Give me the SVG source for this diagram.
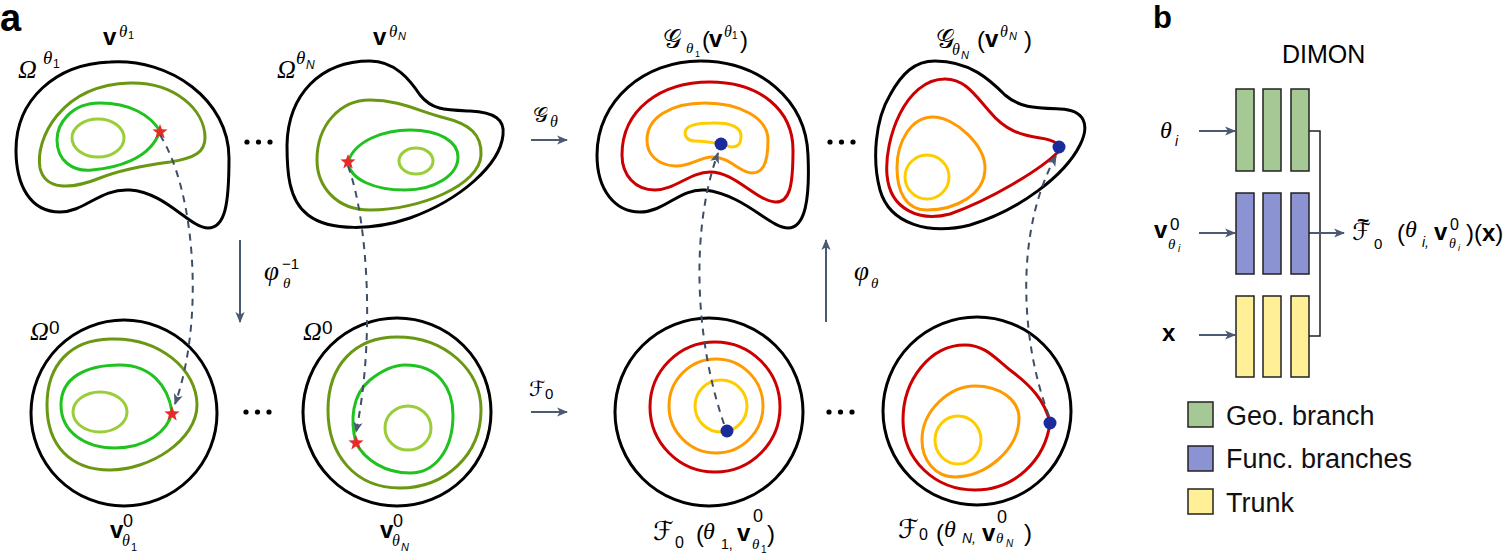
<svg xmlns="http://www.w3.org/2000/svg" xmlns:xlink="http://www.w3.org/1999/xlink" width="1511" height="553" viewBox="0 0 1511 553">
<defs>
<style>
.blk{fill:none;stroke:#000;stroke-width:3}
.c{fill:none;stroke-width:3}
.olive{stroke:#6a9812}
.green{stroke:#1fc21f}
.lgreen{stroke:#9acd3a}
.red{stroke:#cc0000}
.orange{stroke:#ff9a00}
.yellow{stroke:#ffcc00}
.dash{fill:none;stroke:#3e4e66;stroke-width:2;stroke-dasharray:7 6}
.arr{fill:none;stroke:#4a5a72;stroke-width:2}
.dot{fill:#1a2b9b}
.star{fill:#e62a2a}
.bar{stroke:#222;stroke-width:1.5}
.gr{fill:#a5c894}
.bl{fill:#8b93d3}
.yl{fill:#fff097}
.dots{fill:#000}
text{fill:#000}
.lbl{font-family:"Liberation Sans",Arial,sans-serif;font-weight:bold}
.bv{font-family:"Liberation Sans",Arial,sans-serif;font-weight:bold;font-size:24px}
.gi{font-family:"Liberation Serif","Times New Roman",serif;font-style:italic}
.sn{font-family:"Liberation Sans",Arial,sans-serif}
.si{font-family:"Liberation Sans",Arial,sans-serif;font-style:italic}
.sc{font-family:"DejaVu Serif","DejaVu Sans",serif;font-style:normal}
.leg{font-family:"Liberation Sans",Arial,sans-serif;font-size:27px;fill:#111}
</style>
<marker id="ah" viewBox="0 0 10 10" refX="9" refY="5" markerWidth="11" markerHeight="11" markerUnits="userSpaceOnUse" orient="auto">
<path d="M0,0.8 L10,5 L0,9.2 L2.5,5 Z" fill="#4a5a72"/>
</marker>
<polygon id="star" points="0,-8 1.94,-2.67 7.61,-2.47 3.14,1.02 4.7,6.47 0,3.3 -4.7,6.47 -3.14,1.02 -7.61,-2.47 -1.94,-2.67"/>
</defs>
<rect width="1511" height="553" fill="#fff"/>

<text class="lbl" x="0" y="31" font-size="38">a</text>
<text class="lbl" x="1153" y="28" font-size="31">b</text>

<!-- top-left domain Omega^theta1 -->
<g id="node-omega-theta1">
<path class="blk" d="M110,62 C170,58 229,100 229,158 C229,205 225,228 208,228 C190,228 165,192 130,190 C100,188 85,212 60,212 C30,212 16,185 16,150 C16,100 55,64 110,62 Z"/>
<path class="c olive" d="M130,83 C175,82 205,110 205,138 C205,152 195,158 170,162 C140,166 120,170 100,178 C70,190 45,190 40,168 C35,140 60,85 130,83 Z"/>
<path class="c green" d="M160,131 C150,115 130,103 100,103 C70,103 57,125 57,140 C57,160 72,172 92,170 C115,168 150,160 160,131 Z"/>
<ellipse class="c lgreen" cx="98" cy="138" rx="26" ry="19"/>
<use href="#star" x="160" y="132" class="star"/>
<text class="gi" x="18" y="78" font-size="26">Ω</text>
<text class="gi" x="43" y="64" font-size="19">θ</text>
<text class="sn" x="53" y="68" font-size="12">1</text>
<text class="bv" x="103" y="45">v</text>
<text class="gi" x="119" y="37" font-size="17">θ</text>
<text class="sn" x="128" y="39" font-size="11">1</text>
</g>

<!-- top domain Omega^thetaN -->
<g id="node-omega-thetaN">
<path class="blk" d="M370,61 C395,61 410,80 420,95 C432,110 445,110 470,111 C495,112 505,120 503,135 C500,165 460,200 410,218 C375,230 330,232 308,215 C288,200 287,170 287,145 C288,95 320,61 370,61 Z"/>
<path class="c olive" d="M370,100 C400,100 420,112 445,118 C470,124 482,135 481,155 C480,185 420,210 370,210 C335,210 317,185 317,160 C317,125 340,100 370,100 Z"/>
<path class="c green" d="M348,162 C355,140 385,130 410,130 C440,130 458,142 458,157 C458,175 435,190 405,190 C375,190 350,180 348,162 Z"/>
<ellipse class="c lgreen" cx="416" cy="161" rx="17" ry="13"/>
<use href="#star" x="348" y="162" class="star"/>
<text class="gi" x="277" y="78" font-size="26">Ω</text>
<text class="gi" x="296" y="64" font-size="19">θ</text>
<text class="si" x="306" y="69" font-size="12">N</text>
<text class="bv" x="373" y="45">v</text>
<text class="gi" x="389" y="37" font-size="17">θ</text>
<text class="si" x="398" y="40" font-size="11">N</text>
</g>

<!-- bottom reference domain 1 -->
<g id="node-omega0-1">
<circle class="blk" cx="124" cy="413" r="93"/>
<path class="c olive" d="M110,339 C160,337 197,370 197,405 C197,440 150,470 110,470 C70,470 47,445 47,405 C47,365 70,340 110,339 Z"/>
<path class="c green" d="M172,412 C168,385 150,365 120,365 C85,365 61,378 61,405 C61,432 85,448 115,448 C145,448 168,432 172,412 Z"/>
<ellipse class="c lgreen" cx="100" cy="412" rx="27" ry="20"/>
<use href="#star" x="172" y="414" class="star"/>
<text class="gi" x="30" y="340" font-size="26">Ω</text>
<text class="sn" x="49" y="334" font-size="19">0</text>
<text class="bv" x="110" y="538">v</text>
<text class="sn" x="123" y="527" font-size="18">0</text>
<text class="gi" x="122" y="546" font-size="16">θ</text>
<text class="sn" x="131" y="551" font-size="11">1</text>
</g>

<!-- bottom reference domain N -->
<g id="node-omega0-N">
<circle class="blk" cx="397" cy="412" r="94"/>
<path class="c olive" d="M397,337 C445,337 481,370 481,410 C481,455 445,488 400,488 C355,488 328,455 328,410 C328,365 355,337 397,337 Z"/>
<path class="c green" d="M356,443 C350,420 352,395 370,380 C385,368 395,365 405,365 C440,365 453,390 453,415 C453,450 435,473 410,473 C385,473 365,460 356,443 Z"/>
<ellipse class="c lgreen" cx="408" cy="428" rx="23" ry="22"/>
<use href="#star" x="356" y="443" class="star"/>
<text class="gi" x="303" y="340" font-size="26">Ω</text>
<text class="sn" x="322" y="334" font-size="19">0</text>
<text class="bv" x="380" y="538">v</text>
<text class="sn" x="393" y="527" font-size="18">0</text>
<text class="gi" x="392" y="546" font-size="16">θ</text>
<text class="si" x="401" y="551" font-size="11">N</text>
</g>

<!-- top mapped solution 1 -->
<g id="node-G-theta1">
<path class="blk" d="M700,61 C760,61 806,100 808,155 C810,200 805,228 788,228 C770,228 745,195 705,190 C680,188 665,212 640,212 C615,212 597,190 597,155 C597,100 645,61 700,61 Z"/>
<path class="c red" d="M710,82 C760,82 793,110 793,150 C793,185 790,203 775,202 C755,200 735,172 710,172 C690,172 675,190 655,190 C635,190 622,175 622,155 C622,110 660,82 710,82 Z"/>
<path class="c orange" d="M705,103 C740,103 768,118 768,140 C768,165 762,173 752,173 C740,173 730,157 712,157 C700,157 690,167 675,166 C658,165 647,155 647,140 C647,118 670,103 705,103 Z"/>
<path class="c yellow" d="M712,123 C732,122 741,128 741,136 C741,145 737,147 732,147 C727,147 725,143 718,143 C710,143 705,141 695,141 C687,141 685,136 685,133 C685,126 695,123 712,123 Z"/>
<circle class="dot" cx="721" cy="144" r="6.5"/>
<text class="sc" x="663" y="48" font-size="26">𝒢</text>
<text class="gi" x="686" y="53" font-size="15">θ</text>
<text class="sn" x="695" y="57" font-size="9">1</text>
<text class="sn" x="702" y="48" font-size="24">(</text>
<text class="bv" x="709" y="47">v</text>
<text class="gi" x="724" y="37" font-size="16">θ</text>
<text class="sn" x="732" y="39" font-size="10">1</text>
<text class="sn" x="740" y="48" font-size="24">)</text>
</g>

<!-- top mapped solution N -->
<g id="node-G-thetaN">
<path class="blk" d="M935,61 C970,61 990,80 1005,95 C1020,108 1035,108 1060,109 C1085,110 1090,125 1080,145 C1065,175 1020,210 970,225 C930,235 890,225 880,190 C872,160 875,120 890,95 C902,73 915,61 935,61 Z"/>
<path class="c red" d="M945,79 C965,79 975,95 990,112 C1005,130 1020,135 1040,138 C1055,140 1062,145 1058,152 C1040,170 990,200 950,214 C920,222 890,210 887,175 C884,140 905,79 945,79 Z"/>
<path class="c orange" d="M933,117 C955,117 985,145 985,168 C985,195 955,210 927,210 C905,210 897,190 897,168 C897,140 912,117 933,117 Z"/>
<circle class="c yellow" cx="927" cy="177" r="22"/>
<circle class="dot" cx="1059" cy="147" r="6.5"/>
<text class="sc" x="936" y="48" font-size="26">𝒢</text>
<text class="gi" x="952" y="55" font-size="16">θ</text>
<text class="si" x="961" y="59" font-size="11">N</text>
<text class="sn" x="977" y="48" font-size="24">(</text>
<text class="bv" x="985" y="47">v</text>
<text class="gi" x="1000" y="37" font-size="16">θ</text>
<text class="si" x="1009" y="40" font-size="11">N</text>
<text class="sn" x="1024" y="48" font-size="24">)</text>
</g>

<!-- bottom reference solution 1 -->
<g id="node-F0-1">
<circle class="blk" cx="709" cy="412" r="94"/>
<circle class="c red" cx="715" cy="407" r="65"/>
<circle class="c orange" cx="716" cy="406" r="47"/>
<circle class="c yellow" cx="721" cy="406" r="26"/>
<circle class="dot" cx="727" cy="431" r="6.5"/>
<text class="sc" x="653" y="540" font-size="26">ℱ</text>
<text class="sn" x="675" y="548" font-size="16">0</text>
<text class="sn" x="696" y="542" font-size="24">(</text>
<text class="gi" x="703" y="539" font-size="24">θ</text>
<text class="sn" x="721" y="549" font-size="14">1,</text>
<text class="bv" x="737" y="541">v</text>
<text class="sn" x="753" y="522" font-size="18">0</text>
<text class="gi" x="752" y="549" font-size="15">θ</text>
<text class="sn" x="761" y="553" font-size="10">1</text>
<text class="sn" x="767" y="542" font-size="24">)</text>
</g>

<!-- bottom reference solution N -->
<g id="node-F0-N">
<circle class="blk" cx="977" cy="411" r="94"/>
<path class="c red" d="M1050,423 C1045,400 1030,385 1010,370 C995,358 985,345 965,345 C930,345 903,380 903,420 C903,460 935,490 975,490 C1015,490 1045,460 1050,423 Z"/>
<path class="c orange" d="M975,386 C1000,386 1019,400 1019,418 C1019,450 985,477 955,477 C935,477 922,460 922,440 C922,410 950,386 975,386 Z"/>
<ellipse class="c yellow" cx="958" cy="440" rx="23" ry="24"/>
<circle class="dot" cx="1050" cy="423" r="6.5"/>
<text class="sc" x="898" y="538" font-size="26">ℱ</text>
<text class="sn" x="919" y="540" font-size="16">0</text>
<text class="sn" x="936" y="541" font-size="24">(</text>
<text class="gi" x="944" y="537" font-size="24">θ</text>
<text class="si" x="962" y="543" font-size="14">N,</text>
<text class="bv" x="982" y="541">v</text>
<text class="sn" x="997" y="523" font-size="18">0</text>
<text class="gi" x="996" y="543" font-size="15">θ</text>
<text class="si" x="1006" y="547" font-size="10">N</text>
<text class="sn" x="1024" y="541" font-size="24">)</text>
</g>

<!-- ellipsis dots -->
<g id="ellipses" class="dots">
<circle cx="247" cy="142" r="2.6"/><circle cx="258.5" cy="142" r="2.6"/><circle cx="270" cy="142" r="2.6"/>
<circle cx="246" cy="412" r="2.6"/><circle cx="257.5" cy="412" r="2.6"/><circle cx="269" cy="412" r="2.6"/>
<circle cx="830" cy="142" r="2.6"/><circle cx="841.5" cy="142" r="2.6"/><circle cx="853" cy="142" r="2.6"/>
<circle cx="829" cy="412" r="2.6"/><circle cx="840.5" cy="412" r="2.6"/><circle cx="852" cy="412" r="2.6"/>
</g>

<!-- operator labels -->
<g id="operator-labels">
<text class="sc" x="533" y="122" font-size="21">𝒢</text>
<text class="gi" x="550" y="127" font-size="16">θ</text>
<text class="sc" x="529" y="396" font-size="21">ℱ</text>
<text class="sn" x="545" y="399" font-size="15">0</text>
<text class="gi" x="264" y="280" font-size="27">φ</text>
<text class="sn" x="282" y="269" font-size="15">−1</text>
<text class="gi" x="283" y="288" font-size="15">θ</text>
<text class="gi" x="854" y="280" font-size="27">φ</text>
<text class="gi" x="871" y="288" font-size="15">θ</text>
</g>

<!-- connectors -->
<g id="connectors">
<path class="dash" d="M160,135 C195,190 205,320 175,404" marker-end="url(#ah)"/>
<path class="dash" d="M348,166 C368,220 375,340 356,432" marker-end="url(#ah)"/>
<path class="dash" d="M724,424 C695,340 690,230 718,153" marker-end="url(#ah)"/>
<path class="dash" d="M1049,416 C1020,340 1015,230 1056,156" marker-end="url(#ah)"/>
<line class="arr" x1="531" y1="140" x2="567" y2="140" marker-end="url(#ah)"/>
<line class="arr" x1="240" y1="240" x2="240" y2="322" marker-end="url(#ah)"/>
<line class="arr" x1="531" y1="412" x2="567" y2="412" marker-end="url(#ah)"/>
<line class="arr" x1="826" y1="322" x2="826" y2="240" marker-end="url(#ah)"/>
<line class="arr" x1="1199" y1="131" x2="1235" y2="131" marker-end="url(#ah)"/>
<line class="arr" x1="1199" y1="233" x2="1235" y2="233" marker-end="url(#ah)"/>
<line class="arr" x1="1199" y1="335" x2="1235" y2="335" marker-end="url(#ah)"/>
<path d="M1309,131 H1320 V336 H1309" fill="none" stroke="#222" stroke-width="1.5"/>
<line class="arr" x1="1309" y1="233" x2="1344" y2="233" marker-end="url(#ah)"/>
</g>

<!-- panel b: DIMON -->
<g id="dimon-title">
<text class="sn" x="1282" y="63" font-size="25" fill="#111">DIMON</text>
</g>
<g id="geo-branch">
<rect class="bar gr" x="1236" y="89" width="18" height="82"/>
<rect class="bar gr" x="1263" y="89" width="18" height="82"/>
<rect class="bar gr" x="1291" y="89" width="18" height="82"/>
<text class="gi" x="1160" y="138" font-size="24">θ</text>
<text class="si" x="1175" y="146" font-size="14">i</text>
</g>
<g id="func-branch">
<rect class="bar bl" x="1236" y="193" width="18" height="81"/>
<rect class="bar bl" x="1263" y="193" width="18" height="81"/>
<rect class="bar bl" x="1291" y="193" width="18" height="81"/>
<text class="bv" x="1154" y="238">v</text>
<text class="sn" x="1170" y="230" font-size="17">0</text>
<text class="gi" x="1168" y="249" font-size="15">θ</text>
<text class="si" x="1178" y="252" font-size="10">i</text>
</g>
<g id="trunk">
<rect class="bar yl" x="1236" y="296" width="18" height="81"/>
<rect class="bar yl" x="1263" y="296" width="18" height="81"/>
<rect class="bar yl" x="1291" y="296" width="18" height="81"/>
<text class="bv" x="1162" y="341" font-size="23">x</text>
</g>
<g id="output">
<text class="sc" x="1352" y="240" font-size="24">ℱ<tspan class="sn" x="1357" y="227" font-size="21" font-weight="bold">~</tspan></text>
<text class="sn" x="1374" y="249" font-size="15">0</text>
<text class="sn" x="1397" y="241" font-size="24">(</text>
<text class="gi" x="1405" y="237" font-size="24">θ</text>
<text class="si" x="1422" y="247" font-size="14">i,</text>
<text class="bv" x="1434" y="240">v</text>
<text class="sn" x="1450" y="230" font-size="16">0</text>
<text class="gi" x="1449" y="248" font-size="14">θ</text>
<text class="si" x="1458" y="251" font-size="9">i</text>
<text class="sn" x="1466" y="241" font-size="24">)</text>
<text class="sn" x="1474" y="241" font-size="24">(<tspan font-weight="bold">x</tspan>)</text>
</g>
<g id="legend">
<rect class="bar gr" x="1188" y="402" width="25" height="25"/>
<text class="leg" x="1226" y="425">Geo. branch</text>
<rect class="bar bl" x="1188" y="446" width="25" height="25"/>
<text class="leg" x="1226" y="468">Func. branches</text>
<rect class="bar yl" x="1188" y="489" width="25" height="25"/>
<text class="leg" x="1226" y="512">Trunk</text>
</g>
</svg>
